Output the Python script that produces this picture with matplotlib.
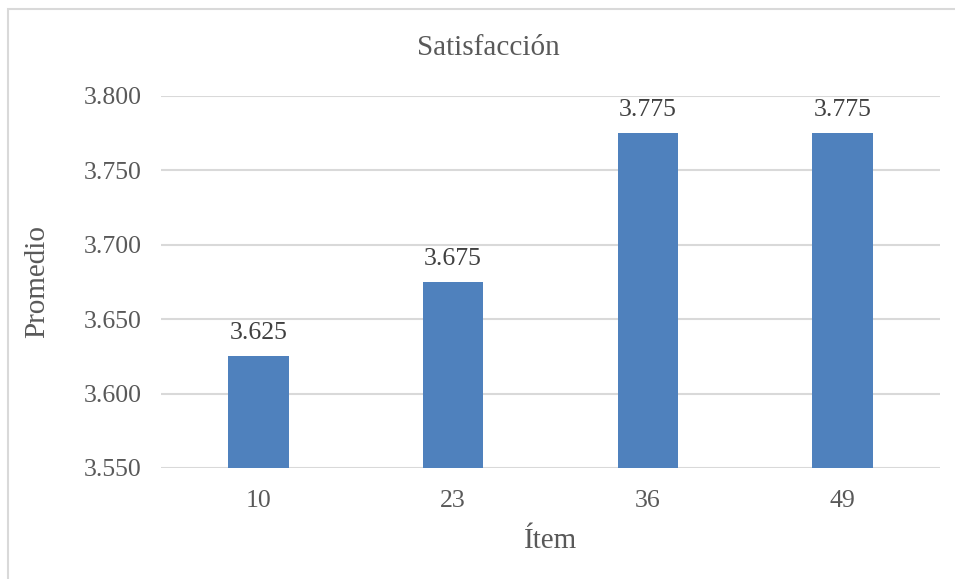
import matplotlib.pyplot as plt
from matplotlib.patches import Rectangle

items = ['10', '23', '36', '49']
promedio = [3.625, 3.675, 3.775, 3.775]
yticks = [3.550, 3.600, 3.650, 3.700, 3.750, 3.800]

gris = '#595959'
azul = '#4F81BD'

plt.rcParams['font.family'] = ['Liberation Serif', 'DejaVu Serif']

fig = plt.figure(figsize=(9.55, 5.79), dpi=100)
ax = fig.add_axes([161 / 955, 1 - 468 / 579, (940 - 161) / 955, (468 - 96) / 579])

# marco del gráfico (solo se ven los bordes superior e izquierdo)
fig.patches.append(Rectangle((8 / 955, -0.1), 1.2, 1 - 9 / 579 + 0.1,
                             transform=fig.transFigure, fill=False,
                             edgecolor='#D9D9D9', linewidth=1.5))

x = range(len(items))
barras = ax.bar(x, promedio, width=0.31, color=azul, zorder=3)
for b, v in zip(barras, promedio):
    ax.text(b.get_x() + b.get_width() / 2, v + 0.008, f'{v:.3f}',
            ha='center', va='bottom', fontsize=18.5, color='#404040')

ax.set_ylim(3.550, 3.800)
ax.set_xlim(-0.5, len(items) - 0.5)
ax.set_yticks(yticks)
ax.set_yticklabels([f'{t:.3f}' for t in yticks])
ax.set_xticks(list(x))
ax.set_xticklabels(items)
ax.tick_params(axis='both', length=0, labelsize=18.5, labelcolor=gris)
ax.tick_params(axis='y', pad=14)
ax.tick_params(axis='x', pad=16)
ax.grid(axis='y', color='#D9D9D9', linewidth=1.5, zorder=0)
for s in ax.spines.values():
    s.set_visible(False)

fig.text(488 / 955, 1 - 48 / 579, 'Satisfacción', fontsize=21, color=gris,
         ha='center', va='center')
ax.set_ylabel('Promedio', fontsize=21, color=gris, labelpad=24)
ax.set_xlabel('Ítem', fontsize=21, color=gris, labelpad=11)

fig.savefig('out.png', dpi=100)
